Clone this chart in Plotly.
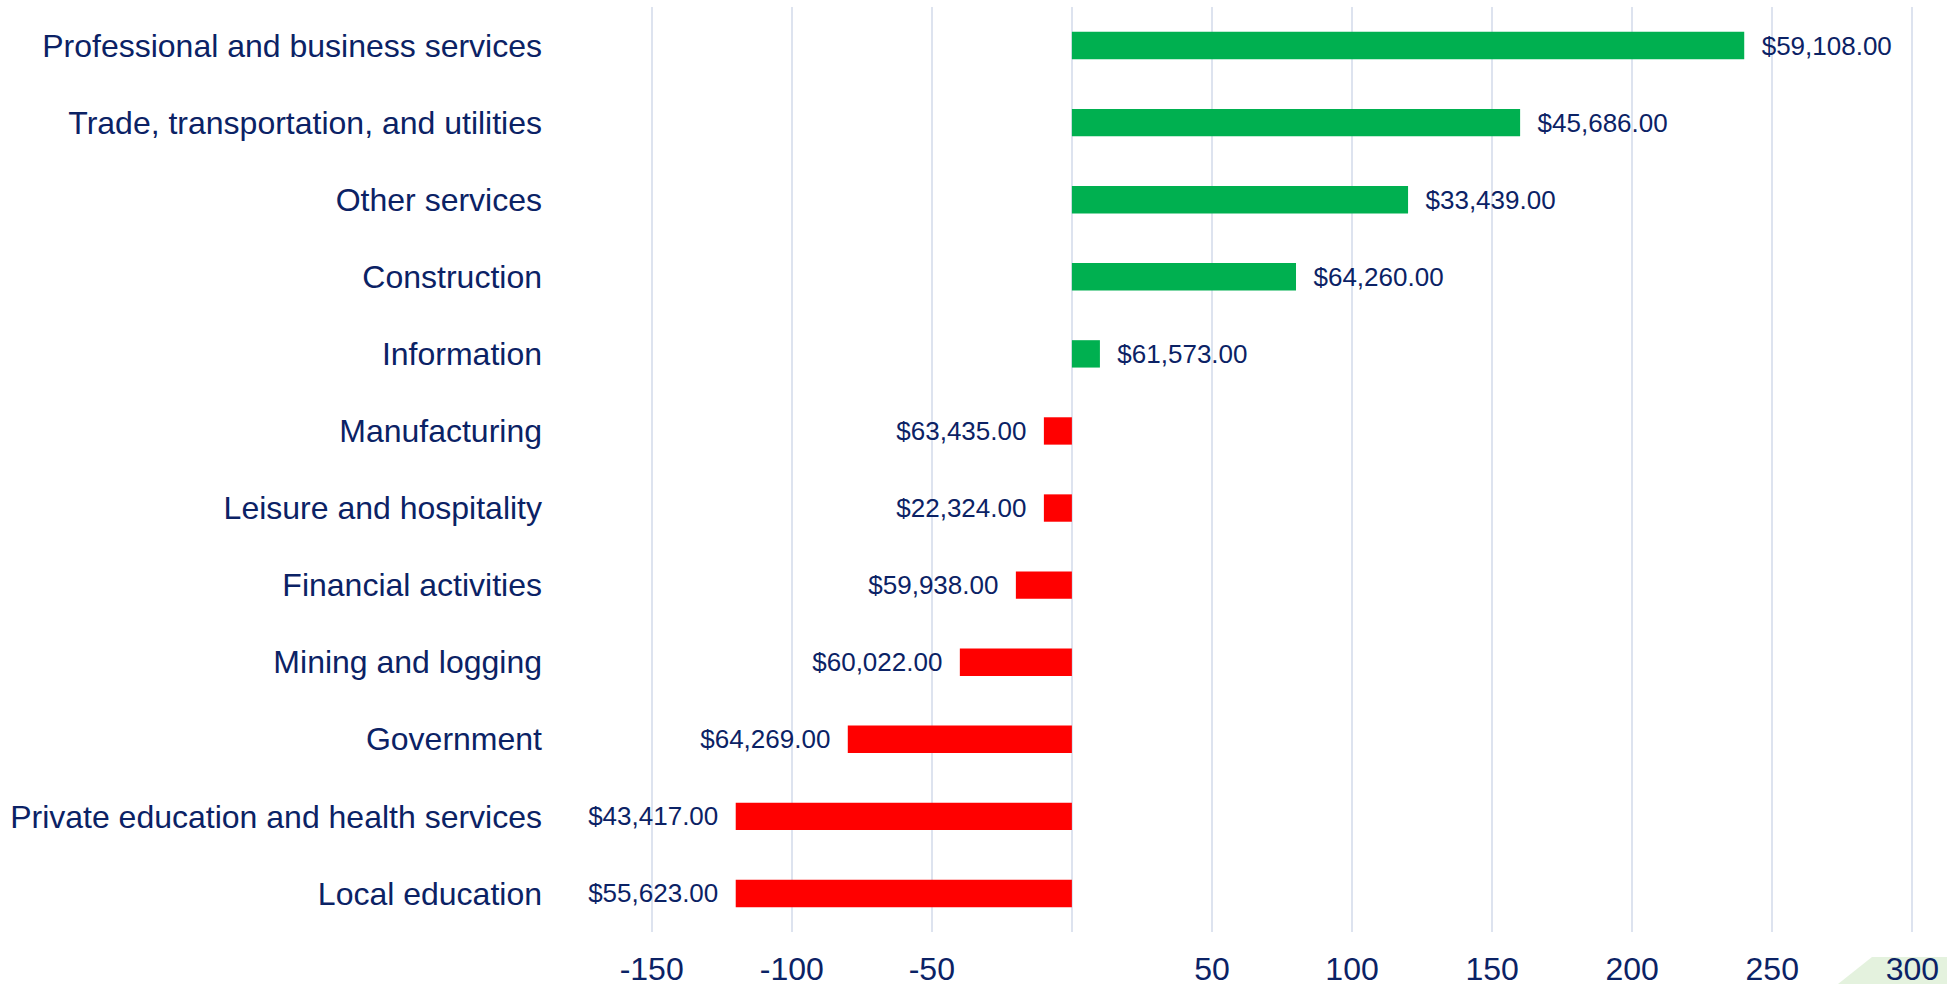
import plotly.graph_objects as go

categories = [
    "Professional and business services",
    "Trade, transportation, and utilities",
    "Other services",
    "Construction",
    "Information",
    "Manufacturing",
    "Leisure and hospitality",
    "Financial activities",
    "Mining and logging",
    "Government",
    "Private education and health services",
    "Local education",
]
changes = [240, 160, 120, 80, 10, -10, -10, -20, -40, -80, -120, -120]
wages = ["$59,108.00", "$45,686.00", "$33,439.00", "$64,260.00", "$61,573.00",
         "$63,435.00", "$22,324.00", "$59,938.00", "$60,022.00", "$64,269.00",
         "$43,417.00", "$55,623.00"]
tick_values = [-150, -100, -50, 0, 50, 100, 150, 200, 250, 300]
tick_labels = ["-150", "-100", "-50", "", "50", "100", "150", "200", "250", "300"]

GREEN = "#00b050"
RED = "#ff0000"
NAVY = "#0b2265"
FONT = "Liberation Sans, Arial, sans-serif"

W, H = 1947, 984
ML, MR, MT, MB = 650, 33, 7, 52

colors = [GREEN if v >= 0 else RED for v in changes]
texts = ["  " + w if v >= 0 else w + "  " for v, w in zip(changes, wages)]

fig = go.Figure(go.Bar(
    x=changes, y=categories, orientation="h",
    marker=dict(color=colors, line=dict(width=0)),
    width=0.355,
    text=texts, textposition="outside", constraintext="none", cliponaxis=False,
    textfont=dict(family=FONT, size=26, color=NAVY),
))


def px(xp, yp):
    """pixel position -> paper coordinates"""
    return ((xp - ML) / (W - ML - MR), (H - MB - yp) / (H - MT - MB))


# faint decorative green corner shape (bottom right)
pts = [px(1838, 984), px(1872, 957), px(1947, 957), px(1947, 984)]
path = "M " + " L ".join(f"{a:.5f},{b:.5f}" for a, b in pts) + " Z"
fig.add_shape(type="path", path=path, xref="paper", yref="paper",
              fillcolor="#e4f2de", line=dict(width=0), layer="below")

fig.update_layout(
    width=W, height=H,
    margin=dict(l=ML, r=MR, t=MT, b=MB, autoexpand=False),
    plot_bgcolor="white", paper_bgcolor="white",
    showlegend=False,
    font=dict(family=FONT, color=NAVY),
    xaxis=dict(range=[-150.6, 300.6], tickvals=tick_values, ticktext=tick_labels,
               showgrid=True, gridcolor="#dde3ef", gridwidth=2, zeroline=False,
               showline=False, ticks="", ticklabelstandoff=15, automargin=False,
               tickfont=dict(family=FONT, size=32, color=NAVY)),
    yaxis=dict(autorange="reversed", showgrid=False, zeroline=False, showline=False,
               ticks="", ticklabelstandoff=107, automargin=False,
               tickfont=dict(family=FONT, size=32, color=NAVY)),
)

fig.write_html("out.html", config={"displayModeBar": False})

# remove the browser's default body margin so the figure fills the window exactly
with open("out.html", "r", encoding="utf-8") as f:
    html = f.read()
html = html.replace("<head>", "<head><style>html,body{margin:0;padding:0;overflow:hidden;}</style>", 1)
with open("out.html", "w", encoding="utf-8") as f:
    f.write(html)
